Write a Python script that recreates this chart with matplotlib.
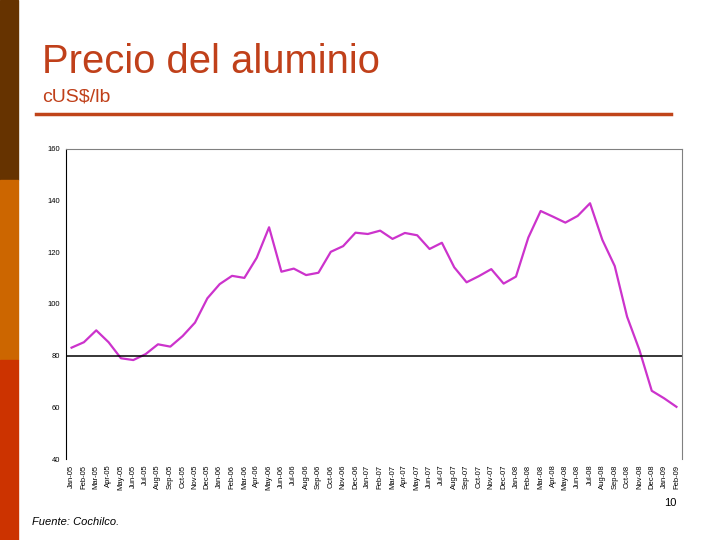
import matplotlib.pyplot as plt
from matplotlib.patches import Rectangle
from matplotlib.lines import Line2D

months = ["Jan", "Feb", "Mar", "Apr", "May", "Jun",
          "Jul", "Aug", "Sep", "Oct", "Nov", "Dec"]
labels = [m + "-" + y for y in ["05", "06", "07", "08"] for m in months] + ["Jan-09", "Feb-09"]

# c US$/lb
price = [83.1, 85.2, 89.8, 85.2, 79.0, 78.3, 80.6, 84.4, 83.5, 87.6, 92.8, 102.2,
         107.7, 110.9, 110.1, 117.9, 129.7, 112.5, 113.7, 111.2, 112.1, 120.2, 122.4, 127.6,
         127.1, 128.4, 125.2, 127.5, 126.6, 121.3, 123.7, 114.2, 108.4, 110.8, 113.5, 107.9,
         110.6, 125.7, 136.0, 133.8, 131.5, 134.1, 139.0, 124.8, 114.7, 95.1, 82.2, 66.4,
         63.5, 60.2]
yticks = [40, 60, 80, 100, 120, 140, 160]

fig = plt.figure(figsize=(7.2, 5.4), dpi=100)
plt.rcParams['font.family'] = ['Liberation Sans', 'DejaVu Sans']

# left colour stripes
fig.patches.append(Rectangle((0, 1 - 180/540), 18/720, 180/540, transform=fig.transFigure, color="#663300"))
fig.patches.append(Rectangle((0, 1 - 360/540), 18/720, 180/540, transform=fig.transFigure, color="#CC6600"))
fig.patches.append(Rectangle((0, 0), 18/720, 180/540, transform=fig.transFigure, color="#CC3300"))

fig.text(42/720, 1 - 62/540, "Precio del aluminio", fontsize=28.8, color="#C0401A", va="center")
fig.text(42/720, 1 - 97/540, "cUS$/lb", fontsize=14, color="#C0401A", va="center")
fig.lines.append(Line2D([36/720, 671/720], [1 - 114/540, 1 - 114/540], transform=fig.transFigure,
                        color="#C0441A", linewidth=2.5))

ax = fig.add_axes([66/720, 1 - 459/540, 616/720, 310/540])
x = list(range(len(price)))
ax.plot(x, price, color="#CC33CC", linewidth=1.6)
ax.axhline(80, color="black", linewidth=1.1)
ax.set_ylim(40, 160)
ax.set_xlim(-0.45, len(price) - 0.55)
ax.set_yticks(yticks)
ax.set_yticklabels([str(v) for v in yticks], fontsize=5.5)
ax.set_xticks(x)
ax.set_xticklabels(labels, rotation=90, fontsize=5.5)
ax.tick_params(length=0, pad=4)
ax.spines["left"].set_color("black")
ax.spines["bottom"].set_visible(False)
ax.spines["top"].set_color("#808080")
ax.spines["right"].set_color("#808080")

fig.text(670/720, 1 - 503/540, "10", fontsize=8, ha="center", va="center")
fig.text(32/720, 1 - 522/540, "Fuente: Cochilco.", fontsize=8, style="italic", va="center")

plt.savefig("out.png", dpi=100)
